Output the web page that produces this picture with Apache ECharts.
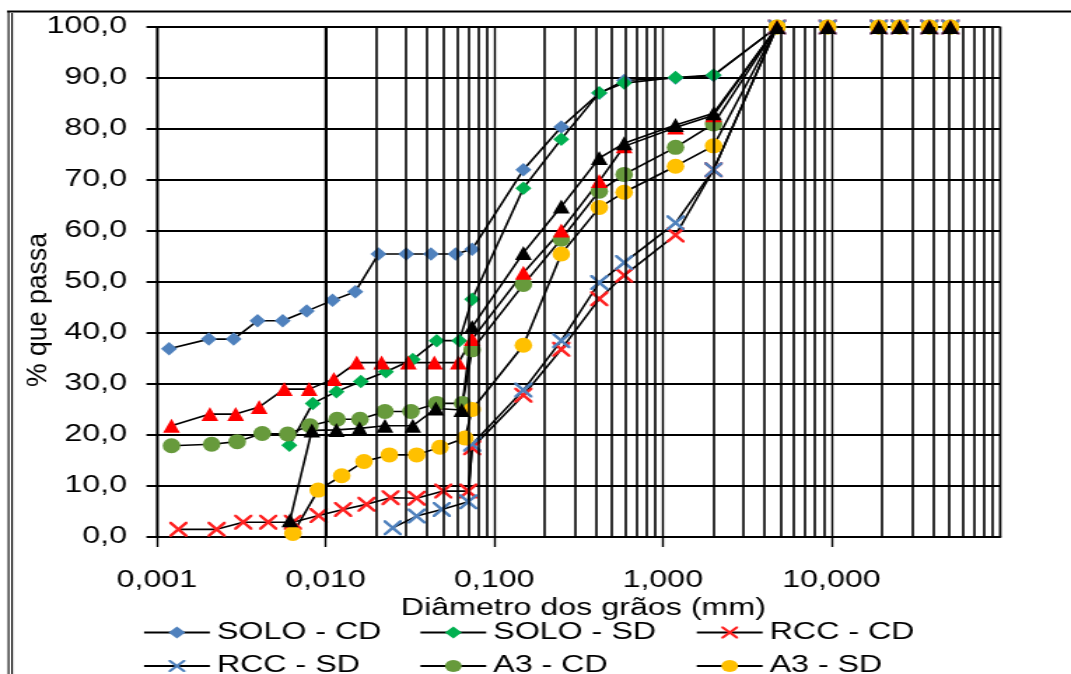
<!DOCTYPE html>
<html><head><meta charset="utf-8">
<script src="https://cdn.jsdelivr.net/npm/echarts@6/dist/echarts.min.js"></script>
<style>
html,body{margin:0;padding:0;background:#fff;overflow:hidden;}
#wrap{width:1071px;height:674px;overflow:hidden;position:relative;background:#fff;}
#chart{width:765px;height:674px;transform:scaleX(1.4);transform-origin:0 0;}
</style></head><body><div id="wrap"><div id="chart"></div></div>
<script>
// ---- tick labels ----
const xTickLabels = ['0,001', '0,010', '0,100', '1,000', '10,000'];
const yTickLabels = ['0,0', '10,0', '20,0', '30,0', '40,0', '50,0', '60,0', '70,0', '80,0', '90,0', '100,0'];

// ---- data: diameter (mm) and % passing ----
const soloCdD = [0.00118, 0.00203, 0.00285, 0.00395, 0.00557, 0.00773, 0.0110, 0.0150, 0.0206, 0.0301, 0.0422, 0.0590, 0.074, 0.149, 0.25, 0.42, 0.59, 1.19, 2.0, 4.76, 9.5, 19.1, 25.4, 38.1, 50.8];
const soloCdP = [36.9, 38.8, 38.8, 42.4, 42.4, 44.3, 46.4, 48.1, 55.5, 55.5, 55.5, 55.5, 56.4, 72.0, 80.4, 87.0, 89.5, 90.0, 90.5, 100, 100, 100, 100, 100, 100];

const soloSdD = [0.0061, 0.0084, 0.0116, 0.0162, 0.0228, 0.0329, 0.0456, 0.0621, 0.074, 0.149, 0.25, 0.42, 0.59, 1.19, 2.0, 4.76, 9.5, 19.1, 25.4, 38.1, 50.8];
const soloSdP = [18.0, 26.2, 28.5, 30.5, 32.4, 34.8, 38.5, 38.5, 46.6, 68.4, 78.0, 87.1, 89.0, 90.1, 90.6, 100, 100, 100, 100, 100, 100];

const rccCdD = [0.00134, 0.00226, 0.00325, 0.00457, 0.0064, 0.0091, 0.0127, 0.0175, 0.0243, 0.0347, 0.0499, 0.0702, 0.074, 0.149, 0.25, 0.42, 0.59, 1.19, 2.0, 4.76, 9.5, 19.1, 25.4, 38.1, 50.8];
const rccCdP = [1.5, 1.5, 2.9, 2.9, 2.9, 4.2, 5.4, 6.4, 7.7, 7.6, 9.0, 9.0, 17.5, 27.8, 36.8, 46.7, 51.3, 59.2, 72.0, 100, 100, 100, 100, 100, 100];

const rccSdD = [0.0250, 0.0347, 0.0489, 0.0702, 0.074, 0.149, 0.25, 0.42, 0.59, 1.19, 2.0, 4.76, 9.5, 19.1, 25.4, 38.1, 50.8];
const rccSdP = [1.8, 4.1, 5.4, 6.9, 18.2, 28.8, 38.5, 49.9, 53.8, 61.6, 72.0, 100, 100, 100, 100, 100, 100];

const a3CdD = [0.00122, 0.00211, 0.00299, 0.00421, 0.00596, 0.00808, 0.0117, 0.0160, 0.0225, 0.0321, 0.0456, 0.0649, 0.074, 0.149, 0.25, 0.42, 0.59, 1.19, 2.0, 4.76, 9.5, 19.1, 25.4, 38.1, 50.8];
const a3CdP = [17.9, 18.2, 18.7, 20.3, 20.2, 21.8, 23.1, 23.1, 24.6, 24.6, 26.2, 26.2, 36.7, 49.5, 58.4, 67.8, 71.1, 76.4, 81.0, 100, 100, 100, 100, 100, 100];

const a3SdD = [0.0064, 0.00905, 0.01246, 0.0169, 0.0239, 0.0347, 0.0477, 0.0671, 0.074, 0.149, 0.25, 0.42, 0.59, 1.19, 2.0, 4.76, 9.5, 19.1, 25.4, 38.1, 50.8];
const a3SdP = [0.7, 9.2, 12.0, 14.8, 16.1, 16.1, 17.6, 19.4, 25.0, 37.6, 55.5, 64.6, 67.6, 72.7, 76.7, 100, 100, 100, 100, 100, 100];

const a7CdD = [0.00122, 0.00206, 0.00293, 0.00404, 0.00569, 0.0080, 0.0112, 0.0153, 0.0215, 0.0310, 0.0442, 0.0613, 0.074, 0.149, 0.25, 0.42, 0.59, 1.19, 2.0, 4.76, 9.5, 19.1, 25.4, 38.1, 50.8];
const a7CdP = [21.8, 24.1, 24.1, 25.5, 29.0, 29.0, 31.0, 34.2, 34.2, 34.2, 34.2, 34.2, 38.8, 51.8, 60.1, 69.8, 76.6, 80.3, 82.7, 100, 100, 100, 100, 100, 100];

const a7SdD = [0.00615, 0.0083, 0.0116, 0.0159, 0.0225, 0.0329, 0.0451, 0.0642, 0.074, 0.149, 0.25, 0.42, 0.59, 1.19, 2.0, 4.76, 9.5, 19.1, 25.4, 38.1, 50.8];
const a7SdP = [3.3, 20.9, 21.0, 21.3, 21.8, 21.8, 25.2, 24.9, 41.2, 55.7, 64.8, 74.3, 77.2, 80.8, 83.1, 100, 100, 100, 100, 100, 100];

// minor vertical grid positions (2..9 within each decade)
const decades = [0.001, 0.01, 0.1, 1, 10];
const minorSteps = [2, 3, 4, 5, 6, 7, 8, 9];

// ---- chart ----
const FONT = "'Liberation Sans', Arial, sans-serif";
const X_PATH = 'path://M0,0L2.5,0L10,7.5L17.5,0L20,0L20,2.5L12.5,10L20,17.5L20,20L17.5,20L10,12.5L2.5,20L0,20L0,17.5L7.5,10L0,2.5Z';

function pairs(D, P) { return D.map((d, i) => [d, P[i]]); }
function mk(name, D, P, symbol, size, color) {
  return {
    name: name, type: 'line', data: pairs(D, P),
    symbol: symbol, symbolSize: size,
    itemStyle: { color: color },
    lineStyle: { color: '#000', width: 1.6 },
    emphasis: { disabled: true },
    z: 3
  };
}

const minorVals = [];
decades.forEach(d => minorSteps.forEach(k => minorVals.push(k * d)));

const chart = echarts.init(document.getElementById('chart'), null, { renderer: 'canvas' });

const legendText = { fontSize: 23, fontFamily: FONT, color: '#000', width: 130, lineHeight: 24 };

chart.setOption({
  animation: false,
  backgroundColor: '#fff',
  grid: { left: 112.1, right: 50.7, top: 27, bottom: 137, show: true, borderColor: '#999', borderWidth: 2, containLabel: false },
  xAxis: {
    type: 'log', logBase: 10, min: 0.001, max: 100,
    name: 'Diâmetro dos grãos (mm)', nameLocation: 'middle', nameGap: 51,
    nameTextStyle: { fontSize: 23, fontFamily: FONT, color: '#000', padding: [0, 0, 0, 7] },
    axisLine: { show: true, lineStyle: { color: '#000', width: 2 } },
    axisTick: { show: true, inside: false, length: 10, lineStyle: { color: '#000', width: 1.4 } },
    axisLabel: {
      margin: 32, fontSize: 23, fontFamily: FONT, color: '#000', showMaxLabel: false,
      formatter: function (v) { const i = Math.round(Math.log10(v)) + 3; return xTickLabels[i] || ''; }
    },
    splitLine: { show: true, lineStyle: { color: '#000', width: 1.4 } },
    minorTick: { show: false }, minorSplitLine: { show: false }
  },
  yAxis: {
    type: 'value', min: 0, max: 100, interval: 10,
    axisLine: { show: true, lineStyle: { color: '#000', width: 1.4 } },
    axisTick: { show: true, inside: false, length: 7.5, lineStyle: { color: '#000', width: 2 } },
    axisLabel: {
      margin: 21.4, fontSize: 23, fontFamily: FONT, color: '#000',
      formatter: function (v) { return yTickLabels[Math.round(v / 10)]; }
    },
    splitLine: { show: true, lineStyle: { color: '#000', width: 2 } }
  },
  legend: [
    { data: ['SOLO - CD', 'SOLO - SD', 'RCC - CD'], left: 101.9, top: 620.5, orient: 'horizontal',
      itemWidth: 47, itemHeight: 15, itemGap: 14.4, padding: 0, selectedMode: false, textStyle: legendText },
    { data: ['RCC - SD', 'A3 - CD', 'A3 - SD'], left: 101.9, top: 654, orient: 'horizontal',
      itemWidth: 47, itemHeight: 15, itemGap: 14.4, padding: 0, selectedMode: false, textStyle: legendText }
  ],
  graphic: [
    { type: 'line', silent: true, shape: { x1: 5, y1: 11.5, x2: 765, y2: 11.5 }, style: { stroke: '#000', lineWidth: 2 } },
    { type: 'line', silent: true, shape: { x1: 6.1, y1: 11, x2: 6.1, y2: 674 }, style: { stroke: '#000', lineWidth: 1.1 } },
    { type: 'line', silent: true, shape: { x1: 8.6, y1: 13, x2: 8.6, y2: 674 }, style: { stroke: '#000', lineWidth: 1.1 } },
    { type: 'text', silent: true, x: 27, y: 310, rotation: Math.PI / 2, scaleX: 1.27,
      style: { text: '% que passa', fontSize: 21, fontFamily: FONT, fill: '#000', align: 'center', verticalAlign: 'middle' } }
  ],
  series: [
    {
      name: 'grid-minor', type: 'line', data: [], z: 1, silent: true,
      markLine: {
        silent: true, symbol: ['none', 'none'], label: { show: false },
        lineStyle: { color: '#000', width: 1.6, type: 'solid', opacity: 1 },
        emphasis: { disabled: true },
        data: minorVals.map(v => ({ xAxis: v }))
      }
    },
    mk('SOLO - CD', soloCdD, soloCdP, 'diamond', [11.5, 13.5], '#4F81BD'),
    mk('SOLO - SD', soloSdD, soloSdP, 'diamond', [11.5, 13.5], '#00B050'),
    mk('RCC - CD', rccCdD, rccCdP, X_PATH, [13, 15], '#FF2020'),
    mk('RCC - SD', rccSdD, rccSdP, X_PATH, [13, 15], '#4F81BD'),
    mk('A3 - CD', a3CdD, a3CdP, 'circle', [12.6, 15], '#679A3C'),
    mk('A3 - SD', a3SdD, a3SdP, 'circle', [12.6, 15], '#FFC000'),
    mk('A7 - CD', a7CdD, a7CdP, 'triangle', [12, 14], '#FF0000'),
    mk('A7 - SD', a7SdD, a7SdP, 'triangle', [12, 14], '#000000')
  ]
});
</script></body></html>
